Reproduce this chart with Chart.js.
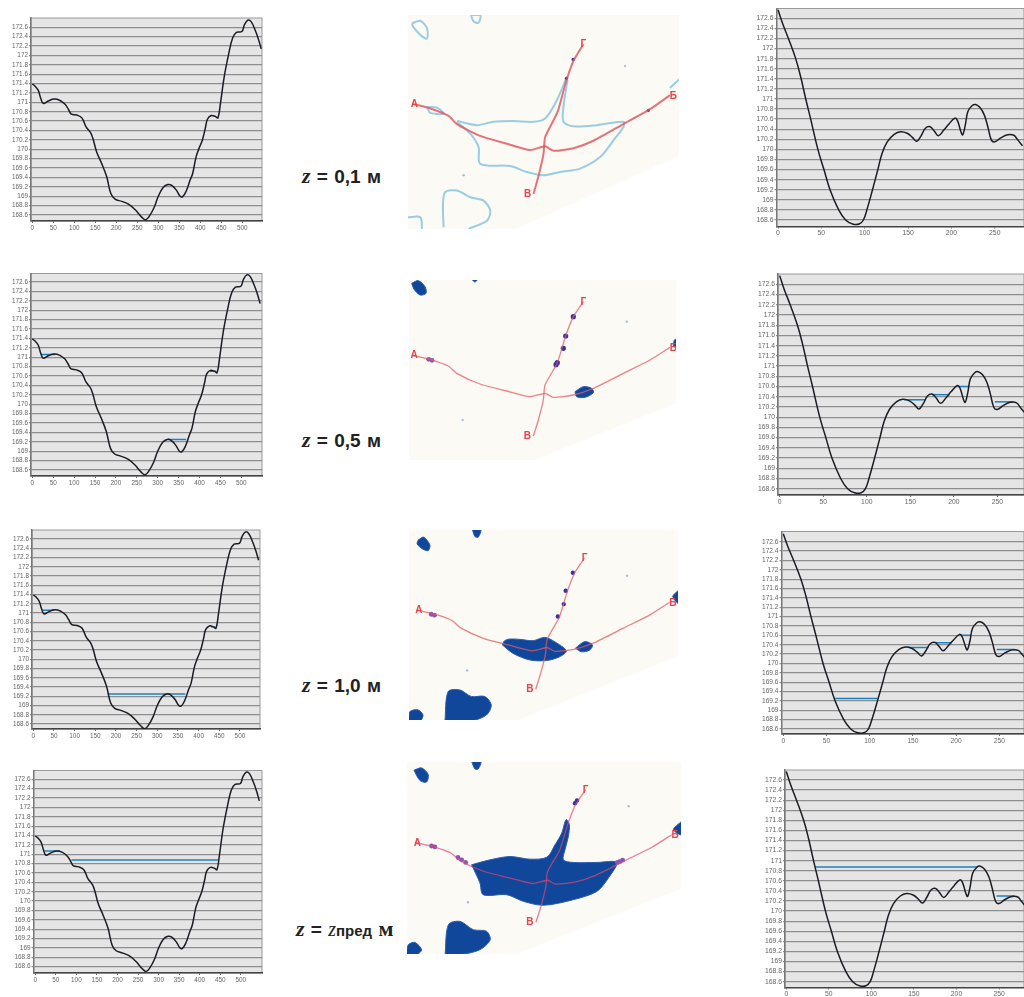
<!DOCTYPE html>
<html>
<head>
<meta charset="utf-8">
<title>Profiles and flooded maps</title>
<script src="https://cdn.jsdelivr.net/npm/chart.js@4"></script>
<style>
  html, body { margin: 0; background: #fff; overflow: hidden; }
  body { position: relative; width: 1024px; height: 997px; }
  canvas { position: absolute; }
  canvas.map { filter: blur(0.7px); }
  canvas.profile { filter: blur(0.3px); }
  .label { position: absolute; white-space: nowrap; font: bold 19px "Liberation Sans", sans-serif; word-spacing: 1px; color: #222; line-height: 20px; }
  .label i { font: italic bold 22px "Liberation Serif", serif; }
  .label small { font: bold 15px "Liberation Sans", sans-serif; }
  .label em { font: italic 20px "Liberation Serif", serif; }
  .label b { font: bold 22px "Liberation Serif", serif; }
</style>
</head>
<body>
<script>
// profile 1 (left column)
const profileLeftX = [0, 6, 14, 20, 26, 38, 52, 66, 78, 86, 93, 106, 118, 128, 139, 145, 153, 165, 177, 187, 197, 213, 229, 245, 261, 270, 279, 290, 300, 312, 323, 332, 343, 352, 358, 366, 376, 382, 390, 397, 405, 412, 417, 426, 436, 442, 448, 457, 468, 477, 486, 499, 505, 513, 521, 531, 539, 545];
const profileLeftZ = [171.39, 171.35, 171.26, 171.09, 170.98, 171.03, 171.07, 171.04, 170.96, 170.85, 170.75, 170.73, 170.67, 170.48, 170.35, 170.21, 169.95, 169.7, 169.42, 169.06, 168.94, 168.89, 168.83, 168.71, 168.55, 168.5, 168.58, 168.76, 169.0, 169.19, 169.25, 169.23, 169.13, 169.0, 168.99, 169.1, 169.35, 169.49, 169.84, 170.02, 170.2, 170.45, 170.64, 170.72, 170.7, 170.67, 170.98, 171.55, 172.05, 172.37, 172.49, 172.51, 172.65, 172.75, 172.72, 172.53, 172.33, 172.14];

// profile 2 (right column)
const profileRightX = [0, 5, 12, 20.4, 26, 32, 37.7, 46, 53, 60, 70, 78, 86, 93.5, 98.5, 103, 109, 115, 120, 126, 134, 141.5, 149, 155, 160, 165, 170, 175.5, 180, 185, 191.5, 197, 204, 207, 211, 213, 216, 219, 224, 228, 233, 238, 242, 246, 250, 257, 265, 272, 276, 282];
const profileRightZ = [172.77, 172.51, 172.2, 171.8, 171.45, 171.0, 170.6, 170.0, 169.6, 169.2, 168.8, 168.6, 168.52, 168.52, 168.6, 168.83, 169.2, 169.59, 169.92, 170.15, 170.3, 170.35, 170.32, 170.24, 170.16, 170.27, 170.42, 170.45, 170.37, 170.27, 170.39, 170.5, 170.62, 170.57, 170.35, 170.29, 170.48, 170.75, 170.87, 170.89, 170.83, 170.68, 170.45, 170.19, 170.15, 170.23, 170.29, 170.28, 170.2, 170.07];

const yTickValues = [172.6, 172.4, 172.2, 172, 171.8, 171.6, 171.4, 171.2, 171, 170.8, 170.6, 170.4, 170.2, 170, 169.8, 169.6, 169.4, 169.2, 169, 168.8, 168.6];
const xTicksLeft = [0, 50, 100, 150, 200, 250, 300, 350, 400, 450, 500];
const xTicksRight = [0, 50, 100, 150, 200, 250];

// water levels: from x, to x, level
const waterLeft1 = [];
const waterLeft2 = [[22, 55, 171.06], [325, 368, 169.25], [425, 440, 170.7]];
const waterLeft3 = [[22, 50, 171.06], [430, 440, 170.7], [180, 368, 169.25]];
const waterLeft4 = [[22, 60, 171.07], [88, 445, 170.875]];
const waterRight1 = [];
const waterRight2 = [[143, 168, 170.34], [175, 195, 170.44], [205, 217, 170.6], [247, 268, 170.3]];
const waterRight3 = [[60, 109, 169.25], [145, 168, 170.34], [175, 195, 170.44], [205, 217, 170.6], [247, 268, 170.3]];
const waterRight4 = [[34, 225, 170.875], [247, 268, 170.3]];

// map geography, all in one map grid
const landShape = [[360, 30], [1200, 30], [1200, 425], [700, 625], [360, 625]];
const routeEastWest = [[395, 285], [450, 298], [505, 318], [530, 340], [600, 372], [680, 393], [750, 410], [795, 400], [820, 412], [880, 405], [940, 385], [1030, 340], [1110, 300], [1170, 262]];
const routeNorthSouth = [[910, 125], [880, 170], [857, 228], [832, 308], [795, 375], [790, 420], [775, 480], [760, 528]];
const endLetters = ["А", "Б", "В", "Г"];
const endPoints = [[402, 287], [1180, 264], [742, 528], [910, 126]];

const map1Outlines = [
  [[530, 332], [590, 343], [640, 334], [700, 332], [760, 334], [795, 325], [830, 276], [860, 213]],
  [[862, 222], [850, 294], [850, 334], [880, 346], [950, 343], [1030, 334], [1030, 348], [1000, 384], [960, 429], [900, 460], [840, 469], [790, 478], [740, 469], [690, 453], [600, 447], [595, 402], [570, 366], [530, 334]],
  [[395, 69], [420, 62], [440, 82], [440, 110], [420, 100], [398, 78], [395, 69]],
  [[572, 46], [600, 46], [595, 67], [580, 64], [572, 46]],
  [[440, 294], [470, 296], [490, 312], [450, 310], [440, 294]],
  [[490, 618], [488, 555], [495, 523], [530, 519], [570, 537], [610, 546], [630, 573], [620, 600], [565, 622]],
  [[383, 591], [420, 591], [425, 622]],
  [[1170, 243], [1197, 220]]
];
const map1Spots = [[879, 166], [859, 217], [1105, 303]];
const map1Purple = [];
const map1FaintSpots = [[1035, 184], [550, 478]];

const map2Blobs = [
  [[395, 70], [415, 62], [435, 80], [438, 100], [420, 105], [402, 88]],
  [[575, 58], [592, 58], [585, 66]],
  [[885, 395], [910, 380], [935, 385], [940, 398], [915, 412], [890, 410]],
  [[1183, 240], [1192, 236], [1192, 264], [1180, 255]]
];
const map2Spots = [[880, 170], [857, 228], [850, 265], [832, 308], [828, 314]];
const map2Purple = [[446, 298], [456, 301]];
const map2FaintSpots = [[548, 480], [1040, 185]];

const map3Blobs = [
  [[400, 71], [417, 62], [436, 86], [431, 103], [415, 99], [397, 83]],
  [[566, 38], [592, 38], [584, 62], [574, 60]],
  [[658, 392], [664, 380], [680, 374], [711, 375], [752, 379], [788, 369], [818, 382], [854, 410], [834, 428], [793, 440], [742, 438], [691, 418]],
  [[882, 402], [910, 382], [934, 392], [925, 408], [900, 413]],
  [[482, 626], [492, 535], [528, 530], [563, 550], [604, 550], [624, 576], [609, 607], [558, 626]],
  [[370, 626], [375, 596], [400, 591], [415, 607], [405, 626]],
  [[1198, 224], [1180, 244], [1198, 265]]
];
const map3Spots = [[874, 171], [852, 226], [846, 267], [828, 305]];
const map3Purple = [[440, 298], [450, 301]];
const map3FaintSpots = [[1040, 180], [550, 470]];

const map4Blobs = [
  [[392, 66], [415, 59], [435, 79], [430, 102], [410, 97]],
  [[566, 39], [594, 39], [586, 62], [576, 62]],
  [[566, 353], [622, 338], [682, 328], [742, 336], [793, 330], [818, 292], [838, 257], [851, 216], [861, 231], [858, 267], [848, 307], [843, 338], [873, 346], [944, 346], [1004, 346], [979, 393], [944, 434], [873, 459], [783, 476], [722, 464], [672, 444], [601, 444], [591, 408]],
  [[486, 626], [496, 535], [531, 525], [571, 550], [611, 555], [622, 581], [591, 611], [531, 626]],
  [[368, 626], [375, 596], [395, 589], [415, 611], [400, 626]],
  [[1200, 221], [1175, 246], [1200, 262]]
];
const map4Spots = [[878, 166], [884, 158]];
const map4Purple = [[445, 296], [455, 299], [525, 331], [536, 338], [548, 346], [1006, 346], [1014, 343], [1022, 339]];
const map4FaintSpots = [[1040, 175], [555, 467]];

Chart.defaults.font.family = '"Liberation Sans", Arial, sans-serif';
Chart.defaults.animation = false;

// chart frames, in page pixels
const leftFrames = [
  { l: 31, t: 18, r: 262, b: 221, x0: 32.3, xs: 0.42, y1: 27.3, y2: 215, font: 6.4 },
  { l: 31, t: 273.5, r: 262, b: 476, x0: 32.3, xs: 0.418, y1: 282, y2: 470, font: 6.4 },
  { l: 32, t: 530, r: 260, b: 729, x0: 33.3, xs: 0.4133, y1: 539, y2: 724, font: 6.4 },
  { l: 33.5, t: 770.5, r: 262, b: 973, x0: 35.3, xs: 0.411, y1: 779.3, y2: 966.7, font: 6.4 }
];
const rightFrames = [
  { l: 776.5, t: 8.5, r: 1024, b: 226.5, x0: 778, xs: 0.867, y1: 18.3, y2: 220, font: 6.8 },
  { l: 778, t: 274, r: 1024, b: 495, x0: 779.7, xs: 0.8707, y1: 284.3, y2: 488.7, font: 6.8 },
  { l: 781.5, t: 531.5, r: 1024, b: 734, x0: 783.3, xs: 0.864, y1: 541.7, y2: 729, font: 6.6 },
  { l: 785, t: 770, r: 1024, b: 987.5, x0: 786.3, xs: 0.851, y1: 780, y2: 981.7, font: 6.8 }
];

const plotBack = {
  id: "plotBack",
  beforeDraw(chart) {
    const a = chart.chartArea, ctx = chart.ctx;
    ctx.save();
    ctx.fillStyle = "#e5e5e5";
    ctx.fillRect(a.left, a.top, a.width, a.height);
    ctx.strokeStyle = "#999";
    ctx.lineWidth = 1;
    ctx.strokeRect(a.left, a.top, a.width, a.height);
    ctx.restore();
  }
};

function addCanvas(left, top, width, height, cls) {
  const c = document.createElement("canvas");
  c.width = width;
  c.height = height;
  c.className = cls;
  c.style.left = left + "px";
  c.style.top = top + "px";
  document.body.appendChild(c);
  return c;
}

function profileChart(f, xs, zs, xTicks, water, canvasLeft) {
  const top = Math.floor(f.t) - 6;
  const height = Math.ceil(f.b) + 14 - top;
  const width = f.r === 1024 ? 1024 - canvasLeft : Math.ceil(f.r) + 3 - canvasLeft;
  const canvas = addCanvas(canvasLeft, top, width, height, "profile");
  const pu = (f.y2 - f.y1) / 4;
  const waterSets = water.map(w => ({
    data: [{ x: w[0], y: w[2] }, { x: w[1], y: w[2] }],
    borderColor: "#1c7fc4",
    borderWidth: 1.5,
    pointRadius: 0
  }));
  new Chart(canvas, {
    type: "line",
    data: {
      datasets: [{
        data: xs.map((x, i) => ({ x: x, y: zs[i] })),
        borderColor: "#1b1d24",
        borderWidth: 1.5,
        pointRadius: 0,
        tension: 0.4
      }].concat(waterSets)
    },
    options: {
      responsive: false,
      layout: { autoPadding: false, padding: { top: f.t - top, right: canvasLeft + width - f.r, left: 0, bottom: 0 } },
      plugins: { legend: { display: false }, tooltip: { enabled: false } },
      scales: {
        x: {
          type: "linear",
          min: (f.l - f.x0) / f.xs,
          max: (f.r - f.x0) / f.xs,
          afterBuildTicks: s => { s.ticks = xTicks.map(v => ({ value: v })); },
          afterFit: s => { s.height = top + height - f.b; },
          grid: { drawOnChartArea: false, color: "#666", tickLength: 2 },
          border: { color: "#444", width: 1.5 },
          ticks: { font: { size: f.font }, color: "#666", padding: 1, maxRotation: 0, autoSkip: false, callback: v => String(v) }
        },
        y: {
          type: "linear",
          min: 168.6 - (f.b - f.y2) / pu,
          max: 172.6 + (f.y1 - f.t) / pu,
          afterBuildTicks: s => { s.ticks = yTickValues.map(v => ({ value: v })); },
          afterFit: s => { s.width = f.l - canvasLeft; },
          grid: { color: "#8e8e8e", lineWidth: 1.3, tickLength: 2 },
          border: { color: "#777", width: 1.5 },
          ticks: { font: { size: f.font }, color: "#666", padding: 1, autoSkip: false, callback: v => String(v) }
        }
      }
    },
    plugins: [plotBack]
  });
}

const endMarks = {
  id: "endMarks",
  afterDatasetsDraw(chart) {
    const ctx = chart.ctx;
    ctx.save();
    ctx.fillStyle = "#e8424c";
    ctx.font = 'bold 10px "Liberation Sans", sans-serif';
    ctx.textAlign = "center";
    ctx.textBaseline = "middle";
    endLetters.forEach((t, i) => {
      ctx.fillText(t, chart.scales.x.getPixelForValue(endPoints[i][0]), chart.scales.y.getPixelForValue(endPoints[i][1]));
    });
    ctx.restore();
  }
};

const pts = a => a.map(p => ({ x: p[0], y: p[1] }));
const closed = a => pts(a.concat([a[0]]));

function mapChart(box, range, outlines, blobs, spots, purple, faint, routeColor, routeWidth, spotRadius) {
  const canvas = addCanvas(box.l, box.t, box.w, box.h, "map");
  const route = r => ({ data: pts(r), borderColor: routeColor, borderWidth: routeWidth, pointRadius: 0, tension: 0.2 });
  const datasets = [
    route(routeEastWest),
    route(routeNorthSouth),
    { data: pts(spots), showLine: false, pointRadius: spotRadius, pointBackgroundColor: "#34349c", pointBorderWidth: 0 },
    { data: pts(purple), showLine: false, pointRadius: 2.4, pointBackgroundColor: "#8a55b5", pointBorderWidth: 0 },
    { data: pts(faint), showLine: false, pointRadius: 1.2, pointBackgroundColor: "#a9bfd8", pointBorderWidth: 0 }
  ];
  outlines.forEach(o => datasets.push({ data: pts(o), borderColor: "#9acde2", borderWidth: 2, pointRadius: 0, tension: 0.3 }));
  blobs.forEach(b => datasets.push({
    data: closed(b),
    borderColor: "#2a5cb0",
    borderWidth: 1,
    backgroundColor: "#10479a",
    fill: "shape",
    pointRadius: 0,
    tension: 0.3
  }));
  datasets.push({ data: closed(landShape), borderWidth: 0, backgroundColor: "#fcfaf4", fill: "shape", pointRadius: 0 });
  new Chart(canvas, {
    type: "line",
    data: { datasets: datasets },
    options: {
      responsive: false,
      layout: { autoPadding: false, padding: 0 },
      plugins: { legend: { display: false }, tooltip: { enabled: false } },
      scales: {
        x: { type: "linear", display: false, min: range[0], max: range[1] },
        y: { type: "linear", display: false, reverse: true, min: range[2], max: range[3] }
      }
    },
    plugins: [endMarks]
  });
}

const leftProfiles = [waterLeft1, waterLeft2, waterLeft3, waterLeft4];
const rightProfiles = [waterRight1, waterRight2, waterRight3, waterRight4];
leftFrames.forEach((f, i) => profileChart(f, profileLeftX, profileLeftZ, xTicksLeft, leftProfiles[i], 0));
rightFrames.forEach((f, i) => profileChart(f, profileRightX, profileRightZ, xTicksRight, rightProfiles[i], 744));

mapChart({ l: 408, t: 15, w: 271, h: 214 }, [383, 1197, 46.5, 622.5], map1Outlines, [], map1Spots, map1Purple, map1FaintSpots, "rgba(224,80,90,0.8)", 2, 1.6);
mapChart({ l: 409, t: 280, w: 267, h: 180 }, [387, 1188, 60, 600], [], map2Blobs, map2Spots, map2Purple, map2FaintSpots, "rgba(228,90,100,0.75)", 1.3, 2.6);
mapChart({ l: 409, t: 530, w: 269, h: 190 }, [372, 1196, 40, 622], [], map3Blobs, map3Spots, map3Purple, map3FaintSpots, "rgba(228,90,100,0.75)", 1.3, 2.2);
mapChart({ l: 407, t: 762, w: 274, h: 192 }, [371, 1198, 41, 624], [], map4Blobs, map4Spots, map4Purple, map4FaintSpots, "rgba(228,70,110,0.7)", 1.3, 2.2);

const labels = [
  { x: 302, y: 163, html: "<i>z</i> = 0,1 м" },
  { x: 302, y: 427, html: "<i>z</i> = 0,5 м" },
  { x: 302, y: 672, html: "<i>z</i> = 1,0 м" },
  { x: 296, y: 916, html: "<i>z</i> = <em>z</em><small>пред</small> <b>м</b>" }
];
labels.forEach(l => {
  const d = document.createElement("div");
  d.className = "label";
  d.style.left = l.x + "px";
  d.style.top = l.y + "px";
  d.innerHTML = l.html;
  document.body.appendChild(d);
});
</script>
</body>
</html>
